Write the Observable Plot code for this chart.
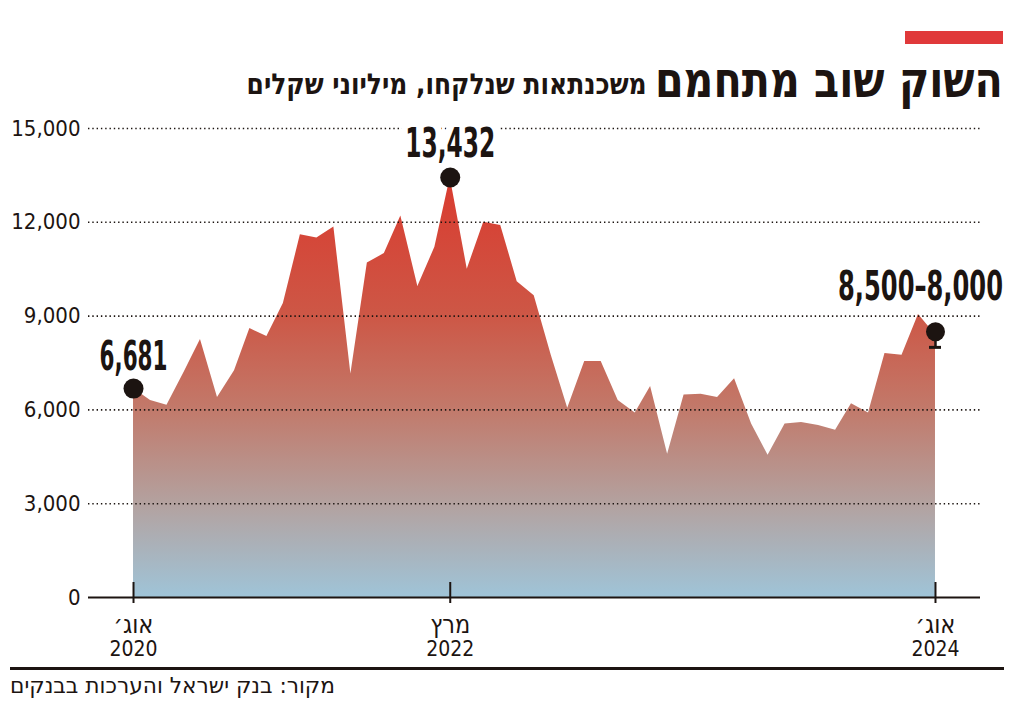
<!DOCTYPE html>
<html>
<head>
<meta charset="utf-8">
<script src="https://cdn.jsdelivr.net/npm/d3@7"></script>
<script src="https://cdn.jsdelivr.net/npm/@observablehq/plot@0.6"></script>
<style>
  body { margin: 0; background: #fff; width: 1024px; height: 706px; overflow: hidden; position: relative;
         font-family: "Liberation Sans Narrow", "DejaVu Sans Condensed", "Liberation Sans", sans-serif; color: #1c1411; }
  #bar { position: absolute; left: 905px; top: 31px; width: 98px; height: 13px; background: #e0393a; }
  .fit { position: absolute; white-space: nowrap; direction: rtl; line-height: 1; transform-origin: 100% 0; }
  #title { right: 21px; top: 55px; font-size: 50px; font-weight: bold; }
  #subtitle { right: 377px; top: 70px; font-size: 29px; font-weight: bold; }
  #chart { position: absolute; left: 0; top: 110px; }
  #rule { position: absolute; left: 10px; top: 667px; width: 994px; height: 3px; background: #1c1411; }
  #source { left: 10px; top: 675px; font-size: 22px; transform-origin: 0 0; }
</style>
</head>
<body>
<div id="bar"></div>
<div id="title" class="fit">השוק שוב מתחמם</div>
<div id="subtitle" class="fit">משכנתאות שנלקחו, מיליוני שקלים</div>
<div id="chart"></div>
<div id="rule"></div>
<div id="source" class="fit">מקור: בנק ישראל והערכות בבנקים</div>
<script>
// ---- data (monthly, Aug 2020 – Aug 2024), millions of shekels ----
const months = [
  "2020-08","2020-09","2020-10","2020-11","2020-12",
  "2021-01","2021-02","2021-03","2021-04","2021-05","2021-06","2021-07","2021-08","2021-09","2021-10","2021-11","2021-12",
  "2022-01","2022-02","2022-03","2022-04","2022-05","2022-06","2022-07","2022-08","2022-09","2022-10","2022-11","2022-12",
  "2023-01","2023-02","2023-03","2023-04","2023-05","2023-06","2023-07","2023-08","2023-09","2023-10","2023-11","2023-12",
  "2024-01","2024-02","2024-03","2024-04","2024-05","2024-06","2024-07","2024-08"
];
const mortgages = [
  6681, 6300, 6150, 7200, 8250,
  6400, 7250, 8600, 8350, 9400, 11600, 11500, 11850, 7150, 10700, 11000, 12200,
  9950, 11200, 13432, 10500, 12000, 11900, 10100, 9650, 7750, 6050, 7550, 7550,
  6300, 5900, 6750, 4580, 6480, 6500, 6400, 7000, 5550, 4550, 5550, 5600,
  5500, 5350, 6200, 5900, 7800, 7750, 9050, 8400
];
const yTicks = [0, 3000, 6000, 9000, 12000, 15000];
const xTickMonths = ["2020-08", "2022-03", "2024-08"];
const xTickLabels = ["אוג׳\n2020", "מרץ\n2022", "אוג׳\n2024"];
const startLabel = {month: "2020-08", value: 6681, text: "6,681"};
const peakLabel = {month: "2022-03", value: 13432, text: "13,432"};
const forecast = {month: "2024-08", high: 8500, low: 8000, text: "8,500–8,000"};

const parse = d3.utcParse("%Y-%m");
const data = months.map((m, i) => ({date: parse(m), value: mortgages[i]}));
const ink = "#1c1411";

const gradientDefs = () => {
  const defs = d3.create("svg:defs");
  const g = defs.append("linearGradient").attr("id", "areaGrad").attr("x1", 0).attr("y1", 0).attr("x2", 0).attr("y2", 1);
  [[0, "#da3b2f"], [0.33, "#cd5746"], [0.55, "#c2796a"], [0.78, "#b3a2a0"], [1, "#9fc4d8"]]
    .forEach(([o, c]) => g.append("stop").attr("offset", o).attr("stop-color", c));
  return defs.node();
};

const numFont = `"Liberation Sans Narrow", "DejaVu Sans Condensed", sans-serif`;
const labelStyle = {fontSize: 40, fontWeight: "bold", fill: ink, fontFamily: numFont, className: "anno"};

const plot = Plot.plot({
  width: 1024,
  height: 556,
  marginTop: 18,
  marginBottom: 69,
  marginLeft: 88,
  marginRight: 44,
  style: {fontFamily: numFont, color: ink, background: "transparent"},
  x: {type: "utc", domain: [new Date("2020-05-11"), new Date("2024-10-22")]},
  y: {domain: [0, 15000]},
  marks: [
    gradientDefs,
    Plot.areaY(data, {x: "date", y: "value", fill: "url(#areaGrad)", curve: "linear"}),
    Plot.ruleY(yTicks.filter(d => d > 0), {stroke: ink, strokeWidth: 1.6, strokeDasharray: "1.4,2.9"}),
    Plot.ruleY([0], {stroke: ink, strokeWidth: 2}),
    Plot.ruleX(xTickMonths.map(parse), {y1: 0, y2: 480, stroke: ink, strokeWidth: 2}),
    Plot.axisY({ticks: yTicks, tickFormat: d3.format(","), tickSize: 0, tickPadding: 8, fontSize: 22, label: null}),
    Plot.axisX({ticks: xTickMonths.map(parse), tickFormat: (d, i) => xTickLabels[i], tickSize: 6, tickPadding: 10,
                fontSize: 21, lineHeight: 1.1, label: null, strokeWidth: 2, className: "xaxis"}),
    Plot.text([startLabel], {x: d => parse(d.month), y: "value", text: "text", dy: -31, ...labelStyle}),
    Plot.text([peakLabel], {x: d => parse(d.month), y: "value", text: "text", dy: -33, stroke: "white", strokeWidth: 20, ...labelStyle}),
    Plot.text([forecast], {x: d => parse(d.month), y: "high", text: "text", dy: -45, dx: -15, ...labelStyle}),
    Plot.dot([startLabel, peakLabel], {x: d => parse(d.month), y: "value", r: 10, fill: ink}),
    Plot.ruleX([forecast], {x: d => parse(d.month), y1: "low", y2: "high", stroke: ink, strokeWidth: 2.5}),
    Plot.ruleY([forecast], {x1: d => parse(d.month), x2: d => parse(d.month), y: "low", insetLeft: -6, insetRight: -6, stroke: ink, strokeWidth: 3}),
    Plot.dot([forecast], {x: d => parse(d.month), y: "high", r: 9.5, fill: ink})
  ]
});
document.getElementById("chart").appendChild(plot);

// condense the bold annotation numbers to the reference's widths
const annoWidths = {"6,681": 68, "13,432": 90, "8,500–8,000": 165};
d3.select(plot).selectAll(".anno text").each(function() {
  const w = annoWidths[this.textContent];
  if (w) { this.setAttribute("textLength", w); this.setAttribute("lengthAdjust", "spacingAndGlyphs"); }
});
// larger Hebrew month names on the x axis
d3.select(plot).selectAll(".xaxis text").each(function() {
  const t = this.querySelector("tspan");
  if (t) t.setAttribute("font-size", 25);
});

// fit header/footer texts to their widths in the reference
const fitTo = (id, w) => {
  const el = document.getElementById(id);
  const actual = el.getBoundingClientRect().width;
  el.style.transform = `scaleX(${w / actual})`;
};
fitTo("title", 348);
fitTo("subtitle", 400);
fitTo("source", 325);
</script>
</body>
</html>
